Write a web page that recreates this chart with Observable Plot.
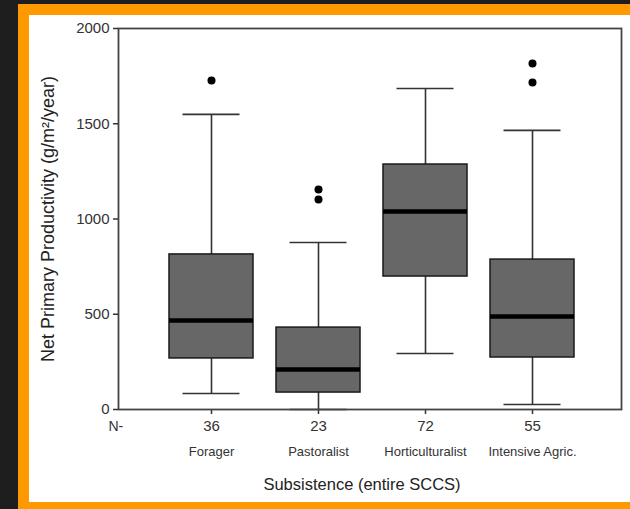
<!DOCTYPE html>
<html><head><meta charset="utf-8">
<script src="https://cdn.jsdelivr.net/npm/d3@7"></script>
<script src="https://cdn.jsdelivr.net/npm/@observablehq/plot@0.6"></script>
<style>
html,body{margin:0;padding:0;background:#1e1e1e;width:630px;height:509px;overflow:hidden;}
#orange{position:absolute;left:18px;top:4px;width:620px;height:510px;background:#ff9900;}
#white{position:absolute;left:29px;top:15px;width:610px;height:487px;background:#fff;}
#chart{position:absolute;left:0;top:0;}
</style></head><body>
<div id="orange"></div><div id="white"></div><div id="chart"></div>
<script>
const categories = ["Forager", "Pastoralist", "Horticulturalist", "Intensive Agric."];
const sampleSizes = [36, 23, 72, 55];
const lowerWhisker = [84, 0, 294, 26];
const q1 = [268, 89, 698, 273];
const median = [467, 210, 1039, 488];
const q3 = [814, 430, 1286, 787];
const upperWhisker = [1549, 877, 1685, 1465];
const outlierCategory = ["Forager", "Pastoralist", "Pastoralist", "Intensive Agric.", "Intensive Agric."];
const outlierValue = [1727, 1155, 1102, 1816, 1716];
const yTicks = [0, 500, 1000, 1500, 2000];
const xTitle = "Subsistence (entire SCCS)";
const yTitle = "Net Primary Productivity (g/m²/year)";

const boxes = categories.map((c, i) => ({cat: c, n: sampleSizes[i], lo: lowerWhisker[i], q1: q1[i], med: median[i], q3: q3[i], hi: upperWhisker[i]}));
const outliers = outlierCategory.map((c, i) => ({cat: c, v: outlierValue[i]}));
const font = "'Liberation Sans', Arial, Helvetica, sans-serif";

const plot = Plot.plot({
  width: 630, height: 509,
  marginLeft: 118, marginRight: 9, marginTop: 28, marginBottom: 100,
  style: {background: "transparent", fontFamily: font, color: "#333", overflow: "visible"},
  x: {type: "band", domain: categories, paddingInner: 0.215, paddingOuter: 0.45, align: 0.52, axis: null},
  y: {domain: [0, 2000], axis: null},
  marks: [
    Plot.axisY({ticks: yTicks, tickSize: 5, tickPadding: 4, fontSize: 15, label: null, strokeWidth: 1.5, tickFormat: d => String(d)}),
    Plot.axisX({tickSize: 5, tickFormat: () => "", label: null, strokeWidth: 1.5}),
    Plot.ruleX(boxes, {x: "cat", y1: "lo", y2: "hi", stroke: "#333", strokeWidth: 1.6}),
    Plot.tickY(boxes, {x: "cat", y: "lo", stroke: "#333", strokeWidth: 1.6, insetLeft: 13.5, insetRight: 13.5}),
    Plot.tickY(boxes, {x: "cat", y: "hi", stroke: "#333", strokeWidth: 1.6, insetLeft: 13.5, insetRight: 13.5}),
    Plot.barY(boxes, {x: "cat", y1: "q1", y2: "q3", fill: "#676767", stroke: "#1a1a1a", strokeWidth: 1.5}),
    Plot.tickY(boxes, {x: "cat", y: "med", stroke: "#000", strokeWidth: 4.5}),
    Plot.dot(outliers, {x: "cat", y: "v", r: 4, fill: "#000"}),
    Plot.frame({stroke: "#444", strokeWidth: 1.8}),
    Plot.text(boxes, {x: "cat", text: d => String(d.n), frameAnchor: "bottom", dy: 21, fontSize: 15, fill: "#333"}),
    Plot.text(categories, {x: d => d, text: d => d, frameAnchor: "bottom", dy: 46, fontSize: 13, fill: "#333"}),
    Plot.text(["N-"], {text: d => d, frameAnchor: "bottom-left", dx: -10, dy: 21, textAnchor: "start", fontSize: 14, fill: "#333"}),
    Plot.text([xTitle], {text: d => d, frameAnchor: "bottom", dx: -8, dy: 80, fontSize: 16.5, fill: "#222"}),
    Plot.text([yTitle], {text: d => d, frameAnchor: "left", textAnchor: "middle", dx: -70, rotate: -90, fontSize: 18, fill: "#222"})
  ]
});
document.getElementById("chart").appendChild(plot);
</script>
</body></html>
